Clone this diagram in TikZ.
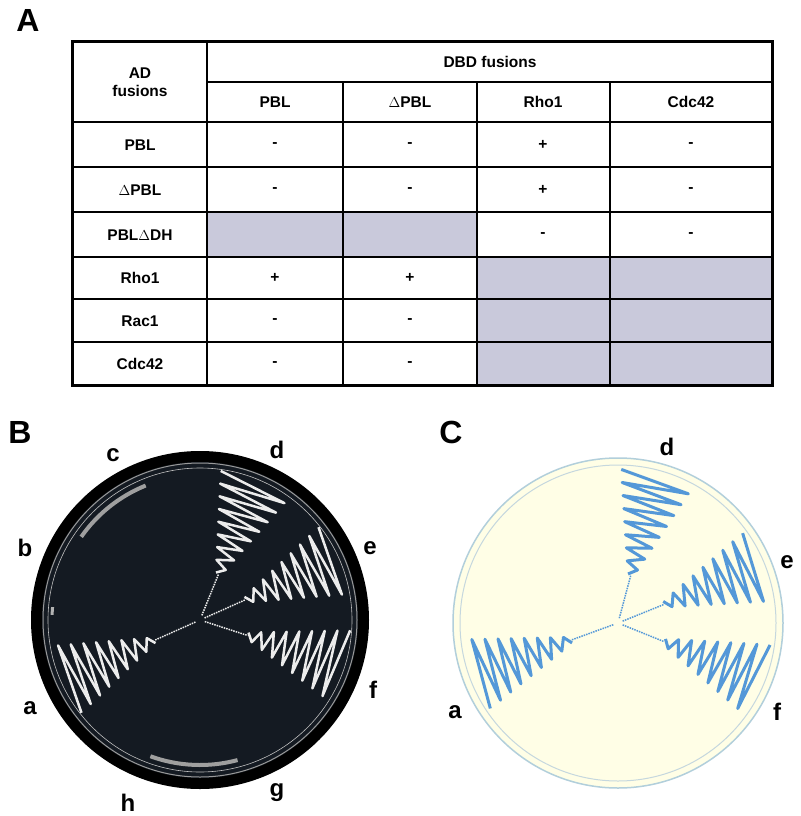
\documentclass[tikz,border=0pt]{standalone}
\usepackage{fontspec}
\setmainfont{Liberation Sans}
\definecolor{plateB}{HTML}{141A22}
\begin{document}
\begin{tikzpicture}[x=1pt,y=-1pt,
  cell/.style={font=\bfseries\fontsize{15.5}{18}\selectfont},
  big/.style={font=\bfseries\fontsize{32}{34}\selectfont},
  lab/.style={font=\bfseries\fontsize{24}{26}\selectfont},
  shade/.style={fill=blue!20!gray!35!white},
  rule/.style={line width=1.2pt}]
\useasboundingbox (0,0) rectangle (800,816);
\fill[white] (0,0) rectangle (800,816);
\node[big] (lA) at (28,20) {A};
\node[big] (lB) at (20,432) {B};
\node[big] (lC) at (451,432) {C};
% table shading
\foreach \x/\y/\w/\h in {207/212/136/45,343/212/134/45,477/257/133/128,610/257/162/128}
  \fill[shade] (\x,\y) rectangle ++(\w,\h);
\draw[line width=3pt] (72,42) rectangle (772,385);
\draw[rule] (207,42) -- (207,385);
\foreach \x in {343,477,610} \draw[rule] (\x,82) -- (\x,385);
\draw[rule] (207,82) -- (772,82);
\foreach \y in {122,167,212,257,299,342} \draw[rule] (72,\y) -- (772,\y);
\node[cell,align=center] (ad) at (140,82) {AD\\fusions};
\node[cell] (dbd) at (490,62) {DBD fusions};
\foreach \x/\t/\n in {275/PBL/h1,410/$\Delta$PBL/h2,543/Rho1/h3,691/Cdc42/h4}
  \node[cell] (\n) at (\x,102) {\t};
\foreach \y/\t/\n in {145/PBL/r1,190/$\Delta$PBL/r2,235/PBL$\Delta$DH/r3,278/Rho1/r4,321/Rac1/r5,364/Cdc42/r6}
  \node[cell] (\n) at (140,\y) {\t};
\foreach \x/\y/\t [count=\i] in {275/145/-,410/145/-,543/145/+,691/145/-,
  275/190/-,410/190/-,543/190/+,691/190/-,543/235/-,691/235/-,
  275/278/+,410/278/+,275/321/-,410/321/-,275/364/-,410/364/-}
  \node[cell] (v\i) at (\x,\y) {\t};
% plate B
\fill[black] (200,620) circle (169);
\fill[plateB] (200,620) circle (158);
\draw[gray!80,line width=1pt] (200,620) circle (157);
\draw[gray!50,line width=0.6pt] (200,620) circle (152);
\foreach \a in {68,24,-18,204}{
  \begin{scope}[shift={(200,620)},rotate=\a]
    \draw[white!85!gray,line width=1.5pt,densely dotted] (5,0) -- (50,0);
    \draw[white!85!gray,line width=2.5pt,line join=round]
      plot[variable=\t,domain=0:16,samples=17] ({50+6*\t},{(2*mod(round(\t),2)-1)*(3+2.1*\t)});
  \end{scope}}
\foreach \a/\b in {112/145,250/285}
  \draw[gray!75,line width=4pt] (200,620) ++(-\a:145) arc[start angle=-\a,end angle=-\b,radius=145];
\draw[gray!60,line width=3pt] (200,620) ++(-175:148) arc[start angle=-175,end angle=-178,radius=148];
\foreach \p/\t in {{113,455}/c,{277,450}/d,{25,548}/b,{370,548}/e,{30,708}/a,{373,690}/f,{128,803}/h,{277,793}/g}
  \node[lab] at (\p) {\t};
% plate C
\fill[yellow!10!white] (618,623) circle (165);
\draw[cyan!40!gray!50,line width=1.5pt] (618,623) circle (165);
\draw[cyan!30!gray!40,line width=1pt] (618,623) circle (158);
\foreach \a in {75,22,-22,200}{
  \begin{scope}[shift={(618,623)},rotate=\a]
    \draw[cyan!60!blue!70,line width=1.5pt,densely dotted] (5,0) -- (50,0);
    \draw[cyan!60!blue!70,line width=3pt,line join=round]
      plot[variable=\t,domain=0:16,samples=17] ({50+6.2*\t},{(2*mod(round(\t),2)-1)*(3+2.1*\t)});
  \end{scope}}
\foreach \p/\t in {{667,447}/d,{787,562}/e,{455,712}/a,{777,712}/f}
  \node[lab] at (\p) {\t};
\end{tikzpicture}
\end{document}
